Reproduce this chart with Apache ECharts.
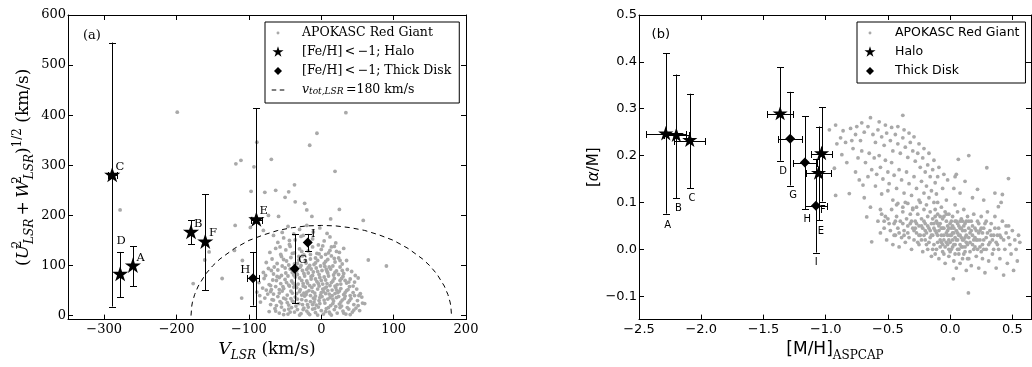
<!DOCTYPE html>
<html><head><meta charset="utf-8">
<script src="https://cdn.jsdelivr.net/npm/echarts@6/dist/echarts.min.js"></script>
<style>html,body{margin:0;padding:0;background:#fff}#c{width:1032px;height:367px}</style>
</head><body><div id="c"></div>
<script>
// ---------------- DATA ----------------
// Panel (a) tick values
const ticksAX = [-300, -200, -100, 0, 100, 200];
const ticksAY = [0, 100, 200, 300, 400, 500, 600];
// Panel (b) tick values
const ticksBX = [-2.5, -2.0, -1.5, -1.0, -0.5, 0.0, 0.5];
const ticksBY = [-0.1, 0.0, 0.1, 0.2, 0.3, 0.4, 0.5];

// Panel (a): [label, V_LSR, (U^2+W^2)^1/2, +-V err, lower, upper]
const haloA = [
  ['A', -260.3, 98.8, 0, 59, 138],
  ['B', -180.0, 166, 0, 142, 190],
  ['C', -288.9, 279.8, 6, 18, 545],
  ['D', -277.9, 82.2, 0, 37, 127],
  ['E', -89.7, 191, 8, -40, 414],
  ['F', -160.3, 146.8, 0, 51, 242]
];
const diskA = [
  ['G', -36.7, 93.5, 0, 25, 162],
  ['H', -94.3, 74.3, 8, 20, 127],
  ['I', -18.7, 146, 0, 129, 163]
];
// letter annotation anchors (data units)
const labelsA = [['A',-249.7,114],['B',-170,183],['C',-278.3,297],['D',-276.5,148],['E',-79.5,209],
  ['F',-149.7,165],['G',-25.6,110],['H',-105,91],['I',-10.9,163]];
const tagA = [['(a)', -317, 558]];
// v_tot,LSR = 180 km/s boundary
const vtotCurve = [[-180,0],[-179,19],[-178,27],[-175,42],[-170,59],[-160,82.5],[-150,99.5],[-140,113],
  [-120,134],[-100,150],[-80,161],[-60,170],[-40,175.5],[-20,179],[0,180],[20,179],[40,175.5],[60,170],
  [80,161],[100,150],[120,134],[140,113],[150,99.5],[160,82.5],[170,59],[175,42],[178,27],[179,19],[180,0]];

// APOKASC red giants, panel (a): [V_LSR, (U^2+W^2)^1/2]
const giantsA = [
 [-199,406],[34,405],[-6,364],[-16,340],[-89,346],[-111,310],[-118,303],[-69,312],[-93,297],[19,288],
 [-278,211],[-97,248],[-78,246],[-63,250],[-45,247],[-36,227],[-20,211],[13,193],[58,190],[-59,198],
 [-119,180],[-96,194],[65,111],[90,99],[-161,111],[-137,74],[-177,64],[-110,35],[-109,110],[-155,127],
 [-120,130],[25,212],[-37,261],[-23,224],[-50,236],[-13,198],[-73,200],[-98,176],[-80,170],
 [-72,8],[-64,14],[-58,5],[-51,11],[-46,3],[-41,16],[-37,7],[-33,12],[-28,4],[-24,15],[-20,9],[-16,2],
 [-12,13],[-8,6],[-4,17],[0,10],[3,3],[7,14],[11,7],[14,1],[18,12],[22,5],[26,16],[30,9],[34,3],[38,13],
 [43,7],[48,15],[53,10],[-55,17],[-30,1],[-5,1],[20,18],[40,2],
 [-84,27],[-78,35],[-70,22],[-66,31],[-60,38],[-55,25],[-49,33],[-45,21],[-40,29],[-36,37],[-31,24],
 [-27,32],[-23,39],[-19,22],[-15,28],[-11,35],[-7,21],[-3,30],[1,38],[5,25],[9,33],[13,20],[17,29],
 [21,36],[25,23],[29,31],[33,39],[37,26],[41,34],[45,22],[50,30],[56,37],[60,24],[-62,20],[-8,39],[15,40],
 [-89,47],[-81,55],[-74,43],[-69,52],[-63,58],[-58,45],[-52,54],[-47,41],[-42,49],[-38,57],[-34,44],
 [-29,52],[-25,59],[-21,42],[-17,50],[-13,56],[-9,45],[-5,53],[-1,41],[3,48],[7,57],[11,43],[15,51],
 [19,59],[23,46],[27,54],[31,42],[35,50],[39,58],[44,46],[49,53],[54,44],[-20,47],[5,55],[-44,59],
 [-86,66],[-79,74],[-72,62],[-67,71],[-61,78],[-56,64],[-50,72],[-45,61],[-41,69],[-36,77],[-32,63],
 [-27,70],[-23,79],[-19,65],[-14,73],[-10,61],[-6,68],[-2,76],[2,63],[6,71],[10,79],[14,66],[18,74],
 [22,62],[26,70],[30,78],[35,65],[40,73],[46,67],[51,75],[-30,75],[0,70],[12,60],
 [-80,86],[-73,94],[-66,83],[-60,91],[-54,99],[-49,85],[-43,93],[-38,81],[-34,89],[-29,97],[-24,84],
 [-20,92],[-16,100],[-11,87],[-7,95],[-3,82],[1,90],[5,98],[9,85],[13,93],[17,81],[21,89],[26,97],
 [31,84],[36,92],[42,88],[-12,80],
 [-76,106],[-68,113],[-61,104],[-55,118],[-48,109],[-42,116],[-37,103],[-31,111],[-26,119],[-21,105],
 [-15,113],[-10,102],[-5,110],[0,117],[4,104],[9,112],[14,119],[19,107],[24,115],[29,103],[35,110],[-28,100],
 [-71,126],[-63,134],[-56,122],[-49,131],[-43,138],[-37,125],[-30,133],[-24,121],[-18,129],[-12,137],
 [-6,124],[0,132],[6,122],[12,130],[18,138],[25,126],[31,134],
 [-60,146],[-52,155],[-44,142],[-36,151],[-28,158],[-20,144],[-12,153],[-4,141],[4,149],[12,157],[20,145],
 [-54,166],[-46,178],[-38,163],[-30,172],[-20,180],[-11,167],[-2,175],[8,164],[-66,160],[-25,160],
 [-45,13],[-35,19],[-18,17],[-2,24],[10,16],[28,19],[-52,35],[-38,27],[-24,45],[-10,27],[6,44],[19,44],
 [32,34],[-58,52],[-30,48],[-15,40],[-3,59],[12,36],[25,49],[40,40],[-48,66],[-36,60],[-22,57],[-8,73],
 [8,64],[20,56],[33,70],[-40,86],[-26,90],[-14,78],[-1,99],[11,97],[24,82],[-33,104],[-18,96],[-3,123],
 [16,99],[-50,95],[-62,70],[44,59],[51,20],[-70,48],[-25,12],[-12,22],[2,53],[16,24],[36,16],[-42,34],
 [-20,69],[27,63],[-55,80],[-8,115],[8,88],[-65,97],[21,128],
 [-57,28],[-47,26],[-33,33],[-21,30],[-9,33],[4,31],[16,33],[27,27],[39,30],[-66,43],[-54,49],[-40,45],
 [-27,41],[-12,48],[0,46],[9,50],[21,51],[33,46],[46,40],[-70,60],[-53,58],[-39,65],[-25,64],[-16,60],
 [-4,64],[4,77],[16,69],[28,74],[38,67],[-58,76],[-46,79],[-33,82],[-18,85],[-5,88],[7,92],[19,86],
 [29,90],[-45,101],[-35,96],[-22,110],[-8,105],[6,108],[18,114],[-52,112],[-40,124],[-27,128],[-15,122],
 [10,125],[-68,32],[-76,51],[-63,9],[-43,7],[-18,5],[6,8],[31,5],[45,11],[57,25],[52,40],[-85,40],
 [-77,80],[-69,90],[47,80],[-9,14],[-26,22],[24,38],[-34,56],[-2,36],[12,4],[-52,2],[37,52],[-14,93],
 [-31,118],[2,139],[-44,150],[-16,146],[14,137],[-57,137],[26,110]
];

// Panel (b): [label, [M/H], [alpha/M], +-[M/H] err, lower, upper]
const haloB = [
  ['A', -2.285, 0.246, 0.160, 0.076, 0.418],
  ['B', -2.200, 0.243, 0.100, 0.109, 0.373],
  ['C', -2.092, 0.232, 0.123, 0.130, 0.332],
  ['D', -1.366, 0.289, 0.105, 0.189, 0.389],
  ['E', -1.057, 0.162, 0.100, 0.062, 0.262],
  ['F', -1.033, 0.204, 0.087, 0.102, 0.303]
];
const diskB = [
  ['G', -1.285, 0.236, 0.095, 0.136, 0.336],
  ['H', -1.167, 0.185, 0.097, 0.085, 0.284],
  ['I', -1.078, 0.093, 0.087, -0.007, 0.193]
];
const labelsB = [['A',-2.269,0.052],['B',-2.183,0.088],['C',-2.074,0.108],['D',-1.342,0.166],['E',-1.038,0.038],
  ['F',-1.022,0.083],['G',-1.261,0.114],['H',-1.148,0.063],['I',-1.076,-0.028]];
const tagB = [['(b)', -2.325, 0.458]];

// APOKASC red giants, panel (b): [[M/H], [alpha/M]]
const giantsB = [
 [-0.97,0.255],[-0.92,0.265],[-0.86,0.253],[-0.80,0.258],[-0.91,0.225],[-0.87,0.202],[-0.93,0.173],
 [-0.92,0.115],[-0.81,0.119],[-0.70,0.137],[-0.64,0.281],[-0.38,0.286],[-0.67,0.069],[-0.63,0.016],
 [-0.76,0.245],[-0.72,0.232],[-0.69,0.25],[-0.66,0.262],[-0.62,0.245],[-0.60,0.228],[-0.58,0.255],
 [-0.55,0.24],[-0.53,0.222],[-0.51,0.248],[-0.48,0.232],[-0.46,0.21],[-0.44,0.245],[-0.42,0.225],
 [-0.40,0.205],[-0.38,0.238],[-0.36,0.218],[-0.34,0.196],[-0.32,0.228],[-0.30,0.21],[-0.28,0.188],
 [-0.26,0.205],[-0.24,0.175],[-0.22,0.195],[-0.20,0.165],[-0.18,0.18],[-0.16,0.155],[-0.14,0.17],
 [-0.12,0.142],[-0.10,0.155],
 [-0.78,0.215],[-0.74,0.195],[-0.71,0.21],[-0.68,0.185],[-0.65,0.205],[-0.63,0.17],[-0.61,0.195],
 [-0.59,0.16],[-0.57,0.2],[-0.56,0.175],[-0.54,0.15],[-0.52,0.19],[-0.50,0.165],[-0.49,0.14],[-0.47,0.185],
 [-0.45,0.158],[-0.43,0.13],[-0.41,0.17],[-0.39,0.148],[-0.37,0.12],[-0.35,0.165],[-0.33,0.14],
 [-0.31,0.115],[-0.29,0.155],[-0.27,0.13],[-0.25,0.105],[-0.23,0.145],[-0.21,0.12],[-0.19,0.135],
 [-0.17,0.11],[-0.15,0.125],[-0.13,0.1],[-0.11,0.118],
 [-0.83,0.185],[-0.76,0.165],[-0.73,0.148],[-0.66,0.155],[-0.60,0.135],[-0.55,0.118],[-0.50,0.125],
 [-0.46,0.105],[-0.42,0.098],[-0.38,0.09],[-0.34,0.098],[-0.30,0.088],
 [-0.88,0.238],[-0.84,0.228],[-0.79,0.232],[-0.75,0.262],[-0.71,0.27],[-0.57,0.272],[-0.52,0.265],
 [-0.47,0.26],[-0.42,0.262],[-0.37,0.255],[-0.33,0.248],[-0.29,0.24],[-0.25,0.225],[-0.21,0.215],
 [-0.17,0.205],[-0.13,0.19],[-0.09,0.175],[-0.05,0.16],[-0.02,0.148],
 [0.03,0.13],[0.08,0.12],[0.12,0.145],[0.18,0.11],[0.22,0.128],[0.295,0.174],[0.469,0.151],[0.36,0.12],
 [0.27,0.105],[0.41,0.1],[0.05,0.16],[-0.06,0.13],[0.15,0.2],[-0.69,0.11],[-0.64,0.09],[-0.56,0.085],
 [-0.53,0.06],[0.066,0.192],[0.42,0.117],[0.388,0.091],[0.04,0.155],
 [-0.58,0.06],[-0.56,0.035],[-0.55,0.075],[-0.53,0.045],[-0.51,0.02],[-0.50,0.065],[-0.48,0.04],
 [-0.47,0.085],[-0.46,0.01],[-0.45,0.055],
 [-0.44,0.03],[-0.43,0.07],[-0.42,0.045],[-0.41,0.005],[-0.40,0.06],[-0.39,0.025],[-0.38,0.08],
 [-0.37,0.04],[-0.36,0.015],[-0.35,0.065],[-0.34,0.05],[-0.33,0.025],[-0.32,0.075],[-0.31,0.0],
 [-0.30,0.045],[-0.30,0.085],[-0.43,0.095],[-0.36,0.1],
 [-0.29,0.02],[-0.28,0.06],[-0.27,0.035],[-0.26,0.075],[-0.25,0.01],[-0.25,0.05],[-0.24,0.03],
 [-0.23,0.065],[-0.22,-0.005],[-0.22,0.045],[-0.21,0.085],[-0.20,0.02],[-0.20,0.055],[-0.19,0.035],
 [-0.18,0.07],[-0.18,0.0],[-0.17,0.045],[-0.16,0.025],[-0.16,0.08],[-0.15,0.055],[-0.15,-0.015],
 [-0.27,0.09],[-0.24,0.1],[-0.19,0.095],
 [-0.14,0.03],[-0.14,0.065],[-0.13,0.01],[-0.13,0.045],[-0.12,0.085],[-0.12,-0.01],[-0.11,0.035],
 [-0.11,0.06],[-0.10,0.015],[-0.10,0.075],[-0.09,0.04],[-0.09,-0.02],[-0.08,0.055],[-0.08,0.005],
 [-0.07,0.09],[-0.07,0.03],[-0.06,0.065],[-0.06,-0.005],[-0.05,0.045],[-0.05,0.02],[-0.04,0.08],
 [-0.04,-0.03],[-0.03,0.035],[-0.03,0.06],[-0.02,0.01],[-0.02,0.05],[-0.01,0.075],[-0.01,-0.015],
 [0.0,0.03],[0.0,0.055],[-0.1,0.1],[-0.03,0.105],
 [0.01,0.0],[0.01,0.045],[0.02,0.07],[0.02,0.02],[0.03,-0.025],[0.03,0.035],[0.04,0.06],[0.04,0.01],
 [0.05,-0.04],[0.05,0.04],[0.06,0.08],[0.06,0.02],[0.07,-0.01],[0.07,0.05],[0.08,0.03],[0.08,-0.03],
 [0.09,0.065],[0.09,0.005],[0.10,0.04],[0.10,-0.02],[0.11,0.085],[0.11,0.02],[0.12,0.055],[0.12,-0.005],
 [0.13,0.03],[0.13,-0.045],[0.14,0.07],[0.14,0.01],[0.026,-0.063],[0.147,-0.093],[0.04,0.095],
 [0.15,0.045],[0.15,-0.02],[0.16,0.015],[0.17,0.06],[0.17,-0.035],[0.18,0.03],[0.19,0.0],[0.19,0.075],
 [0.20,0.045],[0.21,-0.015],[0.21,0.02],[0.22,0.06],[0.23,-0.04],[0.23,0.035],[0.24,0.005],[0.25,0.07],
 [0.25,0.045],[0.26,-0.02],[0.27,0.02],[0.28,0.055],[0.28,-0.05],[0.29,0.0],[0.30,0.035],[0.30,0.08],
 [0.31,-0.025],[0.32,0.015],[0.33,0.055],[0.34,-0.01],[0.35,0.03],[0.36,0.07],[0.37,-0.04],[0.38,0.01],
 [0.39,0.045],[0.40,-0.02],[0.41,0.025],[0.42,0.06],[0.43,-0.055],[0.44,0.0],[0.45,0.035],
 [0.46,-0.03],[0.47,0.05],[0.48,0.01],[0.49,-0.01],[0.50,0.04],[0.51,-0.045],[0.52,0.02],[0.53,0.0],
 [0.55,0.03],[0.56,0.015],[0.54,-0.025],
 [-0.28,0.045],[-0.26,0.015],[-0.23,0.05],[-0.21,0.03],[-0.17,0.015],[-0.13,0.055],[-0.11,0.0],
 [-0.09,0.05],[-0.07,0.015],[-0.05,0.07],[-0.04,0.005],[-0.02,0.04],[-0.01,0.02],[0.0,-0.005],
 [0.02,0.05],[0.03,0.01],[0.05,0.06],[0.06,0.035],[0.07,0.0],[0.08,0.045],[0.09,0.025],[0.1,0.005],
 [0.11,0.05],[0.12,0.025],[0.13,0.06],[0.14,-0.02],[0.16,0.035],[0.18,0.01],[0.2,0.025],[0.22,0.0],
 [0.24,0.04],[0.26,0.01],[0.27,0.045],[0.32,0.04],[0.35,0.0],[0.38,0.03],[-0.32,0.055],[-0.38,0.055],
 [-0.45,0.03],[-0.52,0.07],
 [-0.49,0.055],[-0.44,0.06],[-0.41,0.035],[-0.37,0.03],[-0.34,0.035],[-0.31,0.06],[-0.29,0.04],
 [-0.27,0.055],[-0.25,0.03],[-0.23,0.02],[-0.21,0.06],[-0.19,0.01],[-0.18,0.05],[-0.16,0.04],
 [-0.15,0.03],[-0.14,0.0],[-0.12,0.04],[-0.12,0.07],[-0.1,0.055],[-0.1,0.03],[-0.08,0.02],[-0.08,0.07],
 [-0.06,0.045],[-0.06,0.01],[-0.05,0.03],[-0.03,0.015],[-0.03,0.075],[-0.01,0.045],[-0.01,0.0],
 [0.01,0.03],[0.01,0.06],[0.02,0.005],[0.03,0.045],[0.04,0.025],[0.04,-0.01],[0.06,0.055],[0.06,0.0],
 [0.07,0.03],[0.08,0.01],[0.09,0.045],[0.1,0.06],[0.1,0.02],[0.11,-0.01],[0.12,0.04],[0.13,0.015],
 [0.15,0.025],[0.15,0.06],[0.16,-0.005],[0.17,0.04],[0.18,0.05],[0.19,0.02],[0.2,0.005],[0.21,0.04],
 [0.22,0.02],[0.23,0.055],[0.24,0.02],[0.25,-0.005],[0.26,0.035],[0.27,0.0],[0.29,0.025],[0.29,0.06],
 [0.31,0.01],[0.33,0.03],[0.34,0.02],[0.36,0.045],[0.37,0.015],[0.39,0.0],[0.4,0.03],[0.43,0.02],
 [0.45,0.05],[0.47,0.025],[-0.05,-0.01],[0.05,0.02],[0.0,0.015],[-0.02,0.03],[0.02,0.035],[-0.07,0.045],
 [0.08,0.06],[0.12,0.005],[-0.2,0.04]
];

// ---------------- STYLE / BUILD ----------------
const SERIF = "'DejaVu Serif', serif";
const SANS = "'DejaVu Sans', sans-serif";
const GRAY = '#a9a9a9';
const STAR = 'path://M0,0M200,200M100,0L77.55,69.1L4.89,69.1L63.67,111.8L41.22,180.9L100,138.2L158.78,180.9L136.33,111.8L195.11,69.1L122.45,69.1Z';
const STAR_ICON = 'path://M-20,-20M220,220M100,0L77.55,69.1L4.89,69.1L63.67,111.8L41.22,180.9L100,138.2L158.78,180.9L136.33,111.8L195.11,69.1L122.45,69.1Z';
const DOT_ICON = 'path://M0,0M20,20M10,7.9A2.1,2.1,0,1,1,10,12.1A2.1,2.1,0,1,1,10,7.9Z';
const DIAM_ICON = 'path://M0,0M20,20M10,4.3L15.7,10L10,15.7L4.3,10Z';
const DASH_ICON = 'path://M0,0M20,20M1,9.4L7.5,9.4L7.5,10.6L1,10.6ZM12.5,9.4L19,9.4L19,10.6L12.5,10.6Z';

const GIANT = 'APOKASC Red Giant';
const HALO_A = '[Fe/H]\u2009<\u2009\u22121; Halo';
const DISK_A = '[Fe/H]\u2009<\u2009\u22121; Thick Disk';
const VTOT = 'vtot';
const HALO_B = 'Halo';
const DISK_B = 'Thick Disk';

const minus = s => String(s).replace('-', '\u2212');
const fmtA = v => minus(Math.round(v));
const fmtB = v => minus(v.toFixed(1));

function axisPair(grid, pos, min, max, ticks, fmt, font, size, name, nameOpt) {
  const main = {
    gridIndex: grid, type: 'value', min, max, position: pos,
    axisLine: {show: true, onZero: false, lineStyle: {color: '#000', width: 1}},
    axisTick: {show: true, inside: true, length: 5, customValues: ticks, lineStyle: {color: '#000'}},
    axisLabel: {show: true, customValues: ticks, formatter: fmt, color: '#000', fontFamily: font, fontSize: size,
      margin: (pos === 'left') ? 2 : 4},
    splitLine: {show: false},
    name: name
  };
  Object.assign(main, nameOpt);
  const other = {
    gridIndex: grid, type: 'value', min, max, position: (pos === 'left') ? 'right' : 'top',
    axisLine: {show: true, onZero: false, lineStyle: {color: '#000', width: 1}},
    axisTick: {show: true, inside: true, length: 5, customValues: ticks, lineStyle: {color: '#000'}},
    axisLabel: {show: false}, splitLine: {show: false}
  };
  return [main, other];
}

const richSerif = {
  n: {fontFamily: SERIF, fontSize: 17, lineHeight: 24, color: '#000'},
  i: {fontFamily: SERIF, fontStyle: 'italic', fontSize: 17, lineHeight: 24, color: '#000'},
  sp: {fontFamily: SERIF, fontSize: 12, lineHeight: 12, verticalAlign: 'top', width: 1, color: '#000'},
  sb: {fontFamily: SERIF, fontStyle: 'italic', fontSize: 12, lineHeight: 12, verticalAlign: 'bottom', color: '#000'},
  sq: {fontFamily: SERIF, fontSize: 12, lineHeight: 12, verticalAlign: 'top', color: '#000'}
};
const richSans = {
  n: {fontFamily: SANS, fontSize: 17, lineHeight: 24, color: '#000'},
  i: {fontFamily: SANS, fontStyle: 'italic', fontSize: 17, lineHeight: 24, color: '#000'},
  sb: {fontFamily: SERIF, fontSize: 12, lineHeight: 12, verticalAlign: 'bottom', color: '#000'}
};

const xA = axisPair(0, 'bottom', -350, 200, ticksAX, fmtA, SERIF, 13,
  '{i|V}{sb|LSR}{n| (km/s)}', {nameLocation: 'middle', nameGap: 15, nameTextStyle: {rich: richSerif}});
const yA = axisPair(0, 'left', -8, 600, ticksAY, fmtA, SERIF, 13,
  '{n|(}{i|U}{sp|2}{sb|LSR}{n|\u2009+\u2009}{i|W}{sp|2}{sb|LSR}{n|)}{sq|1/2}{n| (km/s)}',
  {nameLocation: 'middle', nameGap: 32, nameRotate: 90, nameTextStyle: {rich: richSerif}});
const xB = axisPair(1, 'bottom', -2.5, 0.65, ticksBX, fmtB, SANS, 13,
  '{n|[M/H]}{sb|ASPCAP}', {nameLocation: 'middle', nameGap: 14, nameTextStyle: {rich: richSans}});
const yB = axisPair(1, 'left', -0.15, 0.5, ticksBY, fmtB, SANS, 13,
  '{n|[}{i|\u03b1}{n|/M]}', {nameLocation: 'middle', nameGap: 36, nameRotate: 90,
    nameTextStyle: {rich: {n: {fontFamily: SANS, fontSize: 15, color: '#000'}, i: {fontFamily: SANS, fontStyle: 'italic', fontSize: 15, color: '#000'}}}});

const px = v => Math.round(v) + 0.5;
function errRender(params, api) {
  const cs = params.coordSys;
  const x = api.value(0), y = api.value(1), xe = api.value(2), lo = api.value(3), hi = api.value(4);
  const top = cs.y, bot = cs.y + cs.height;
  const pc = api.coord([x, y]);
  const ph = api.coord([x, hi]);
  const pl = api.coord([x, lo]);
  const st = {stroke: '#000', lineWidth: 1};
  const cx = px(pc[0]);
  const ch = [];
  ch.push({type: 'line', shape: {x1: cx, y1: Math.max(ph[1], top), x2: cx, y2: Math.min(pl[1], bot)}, style: st});
  if (ph[1] >= top) ch.push({type: 'line', shape: {x1: cx - 3.5, y1: px(ph[1]), x2: cx + 3.5, y2: px(ph[1])}, style: st});
  if (pl[1] <= bot) ch.push({type: 'line', shape: {x1: cx - 3.5, y1: px(pl[1]), x2: cx + 3.5, y2: px(pl[1])}, style: st});
  if (xe > 0) {
    const pL = api.coord([x - xe, y]), pR = api.coord([x + xe, y]);
    const cy = px(pc[1]);
    ch.push({type: 'line', shape: {x1: px(pL[0]), y1: cy, x2: px(pR[0]), y2: cy}, style: st});
    ch.push({type: 'line', shape: {x1: px(pL[0]), y1: cy - 3.5, x2: px(pL[0]), y2: cy + 3.5}, style: st});
    ch.push({type: 'line', shape: {x1: px(pR[0]), y1: cy - 3.5, x2: px(pR[0]), y2: cy + 3.5}, style: st});
  }
  return {type: 'group', children: ch};
}

const toPts = rows => rows.map(r => ({name: r[0], value: [r[1], r[2]]}));
const toErr = rows => rows.map(r => [r[1], r[2], r[3], r[4], r[5]]);

function textSeries(xi, yi, rows, font, size) {
  return {
    type: 'scatter', xAxisIndex: xi, yAxisIndex: yi, silent: true, symbolSize: 1, z: 5,
    itemStyle: {color: 'rgba(0,0,0,0)', opacity: 1},
    label: {show: true, position: 'inside', formatter: '{b}', color: '#000', fontFamily: font, fontSize: size},
    data: toPts(rows)
  };
}

const option = {
  animation: false,
  backgroundColor: '#fff',
  grid: [
    {left: 68, top: 15, width: 398, height: 308},
    {left: 639, top: 15, width: 392, height: 308}
  ],
  xAxis: [xA[0], xA[1], xB[0], xB[1]],
  yAxis: [yA[0], yA[1], yB[0], yB[1]],
  legend: [
    {
      left: 265, top: 22, orient: 'vertical', selectedMode: false,
      padding: [4, 8, 6, 6], itemGap: 5, itemWidth: 24, itemHeight: 14,
      borderColor: '#000', borderWidth: 1, borderRadius: 0, backgroundColor: '#fff',
      textStyle: {fontFamily: SERIF, fontSize: 12.5, color: '#000', padding: [0, 0, 0, 7],
        rich: {
          i: {fontFamily: SERIF, fontStyle: 'italic', fontSize: 12.5, color: '#000'},
          s: {fontFamily: SERIF, fontStyle: 'italic', fontSize: 9, lineHeight: 10, verticalAlign: 'bottom', color: '#000'},
          t: {fontFamily: SERIF, fontSize: 12.5, color: '#000'}
        }},
      formatter: n => n === VTOT ? '{i|v}{s|tot,LSR}{t|\u2009=180 km/s}' : n,
      data: [{name: GIANT, icon: DOT_ICON}, {name: HALO_A, icon: STAR_ICON},
             {name: DISK_A, icon: DIAM_ICON}, {name: VTOT, icon: DASH_ICON}]
    },
    {
      left: 857, top: 22, orient: 'vertical', selectedMode: false,
      padding: [4, 6, 5, 6], itemGap: 5, itemWidth: 24, itemHeight: 14,
      borderColor: '#000', borderWidth: 1, borderRadius: 0, backgroundColor: '#fff',
      textStyle: {fontFamily: SANS, fontSize: 12.5, color: '#000', padding: [0, 0, 0, 8]},
      data: [{name: GIANT, icon: DOT_ICON}, {name: HALO_B, icon: STAR_ICON}, {name: DISK_B, icon: DIAM_ICON}]
    }
  ],
  series: [
    {name: GIANT, type: 'scatter', xAxisIndex: 0, yAxisIndex: 0, symbol: 'circle', symbolSize: 3.8,
      itemStyle: {color: GRAY, opacity: 1}, data: giantsA, z: 1},
    {name: VTOT, type: 'line', xAxisIndex: 0, yAxisIndex: 0, symbol: 'none', smooth: false,
      color: '#000', lineStyle: {color: '#000', width: 1, type: [5, 4]}, data: vtotCurve, z: 2},
    {type: 'custom', xAxisIndex: 0, yAxisIndex: 0, renderItem: errRender, encode: {x: 0, y: 1},
      data: toErr(haloA.concat(diskA)), z: 3, silent: true},
    {name: HALO_A, type: 'scatter', xAxisIndex: 0, yAxisIndex: 0, symbol: STAR, symbolSize: 17,
      itemStyle: {color: '#000', opacity: 1}, data: toPts(haloA), z: 4},
    {name: DISK_A, type: 'scatter', xAxisIndex: 0, yAxisIndex: 0, symbol: 'diamond', symbolSize: 10,
      itemStyle: {color: '#000', opacity: 1}, data: toPts(diskA), z: 4},
    textSeries(0, 0, labelsA, SERIF, 11.5),
    textSeries(0, 0, tagA, SERIF, 13),

    {name: GIANT, type: 'scatter', xAxisIndex: 2, yAxisIndex: 2, symbol: 'circle', symbolSize: 3.8,
      itemStyle: {color: GRAY, opacity: 1}, data: giantsB, z: 1},
    {type: 'custom', xAxisIndex: 2, yAxisIndex: 2, renderItem: errRender, encode: {x: 0, y: 1},
      data: toErr(haloB.concat(diskB)), z: 3, silent: true},
    {name: HALO_B, type: 'scatter', xAxisIndex: 2, yAxisIndex: 2, symbol: STAR, symbolSize: 16,
      itemStyle: {color: '#000', opacity: 1}, data: toPts(haloB), z: 4},
    {name: DISK_B, type: 'scatter', xAxisIndex: 2, yAxisIndex: 2, symbol: 'diamond', symbolSize: 10,
      itemStyle: {color: '#000', opacity: 1}, data: toPts(diskB), z: 4},
    textSeries(2, 2, labelsB, SANS, 10),
    textSeries(2, 2, tagB, SANS, 13)
  ]
};

const chart = echarts.init(document.getElementById('c'), null, {renderer: 'canvas'});
chart.setOption(option);
</script></body></html>
